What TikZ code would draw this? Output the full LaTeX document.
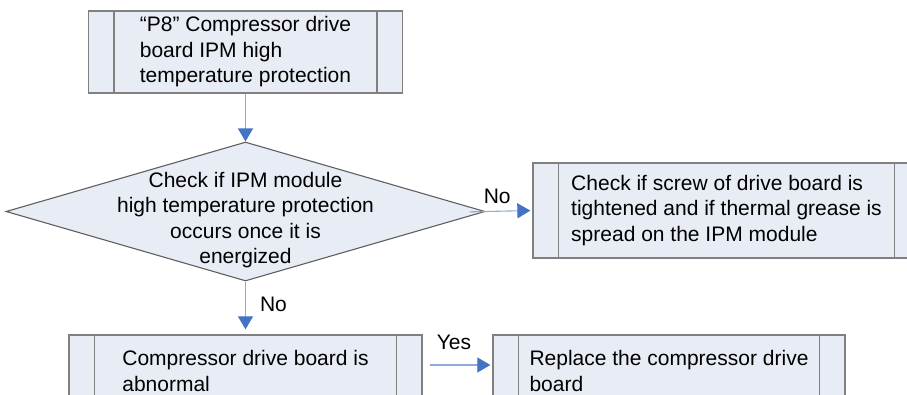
\documentclass[tikz,border=0pt]{standalone}
\usepackage{fontspec}
\setmainfont{Liberation Sans}
\usetikzlibrary{shapes.geometric,arrows.meta,positioning}
\definecolor{boxfill}{RGB}{232,236,245}
\definecolor{boxline}{RGB}{128,128,128}
\definecolor{diamline}{RGB}{95,95,95}
\definecolor{flowline}{RGB}{143,170,220}
\definecolor{flowhead}{RGB}{68,114,196}
\tikzset{
  procbox/.style={rectangle,draw=boxline,fill=boxfill,line width=1.3pt,align=left,inner sep=0pt,
    path picture={\draw[boxline,line width=1.3pt]
      ([xshift=25.5pt]path picture bounding box.north west) -- ([xshift=25.5pt]path picture bounding box.south west)
      ([xshift=-25.5pt]path picture bounding box.north east) -- ([xshift=-25.5pt]path picture bounding box.south east);}},
  decision/.style={diamond,draw=diamline,fill=boxfill,line width=1.1pt,minimum width=479pt,minimum height=139pt,inner sep=0pt},
  flow/.style={draw=flowline,line width=1.1pt,-{Triangle[length=13pt,width=15pt,color=flowhead]}},
  lbl/.style={inner sep=0pt},
}

\begin{document}
\begin{tikzpicture}[x=1pt,y=-1pt,font=\fontsize{21}{25.5}\selectfont]
\useasboundingbox (0,0) rectangle (907,394);
\clip (0,0) rectangle (907,394);

\node[procbox,minimum width=314pt,minimum height=82pt] (alarm) at (245.5,52) {“P8” Compressor drive\\board IPM high\\temperature protection};
\node[decision] (check) at (245.5,211.5) {};
\node[lbl,align=center] (checktxt) at (245.5,220) {Check if IPM module\\high temperature protection\\occurs once it is\\energized};
\node[procbox,minimum width=387pt,minimum height=95pt] (screw) at (726.5,210.5) {Check if screw of drive board is\\tightened and if thermal grease is\\spread on the IPM module};
\node[procbox,minimum width=353pt,minimum height=72pt] (abnormal) at (245.5,371) {Compressor drive board is\\abnormal};
\node[procbox,minimum width=352pt,minimum height=72pt] (replace) at (669,371) {Replace the compressor drive\\board};

\draw[flow] (alarm.south) -- (check.north);
\draw[flow,shorten <=-16pt,shorten >=2pt] (check.east) -- node[lbl,above,pos=0.25,yshift=6.5pt] {No} (screw.west);
\draw[flow,shorten >=5pt] (check.south) -- node[lbl,right,pos=0.43,xshift=14pt] {No} (abnormal.north);
\draw[flow,shorten <=7pt,shorten >=2pt] ([yshift=6pt]abnormal.east) -- node[lbl,above,pos=0.45,yshift=14.5pt] {Yes} ([yshift=6pt]replace.west);

\end{tikzpicture}
\end{document}
